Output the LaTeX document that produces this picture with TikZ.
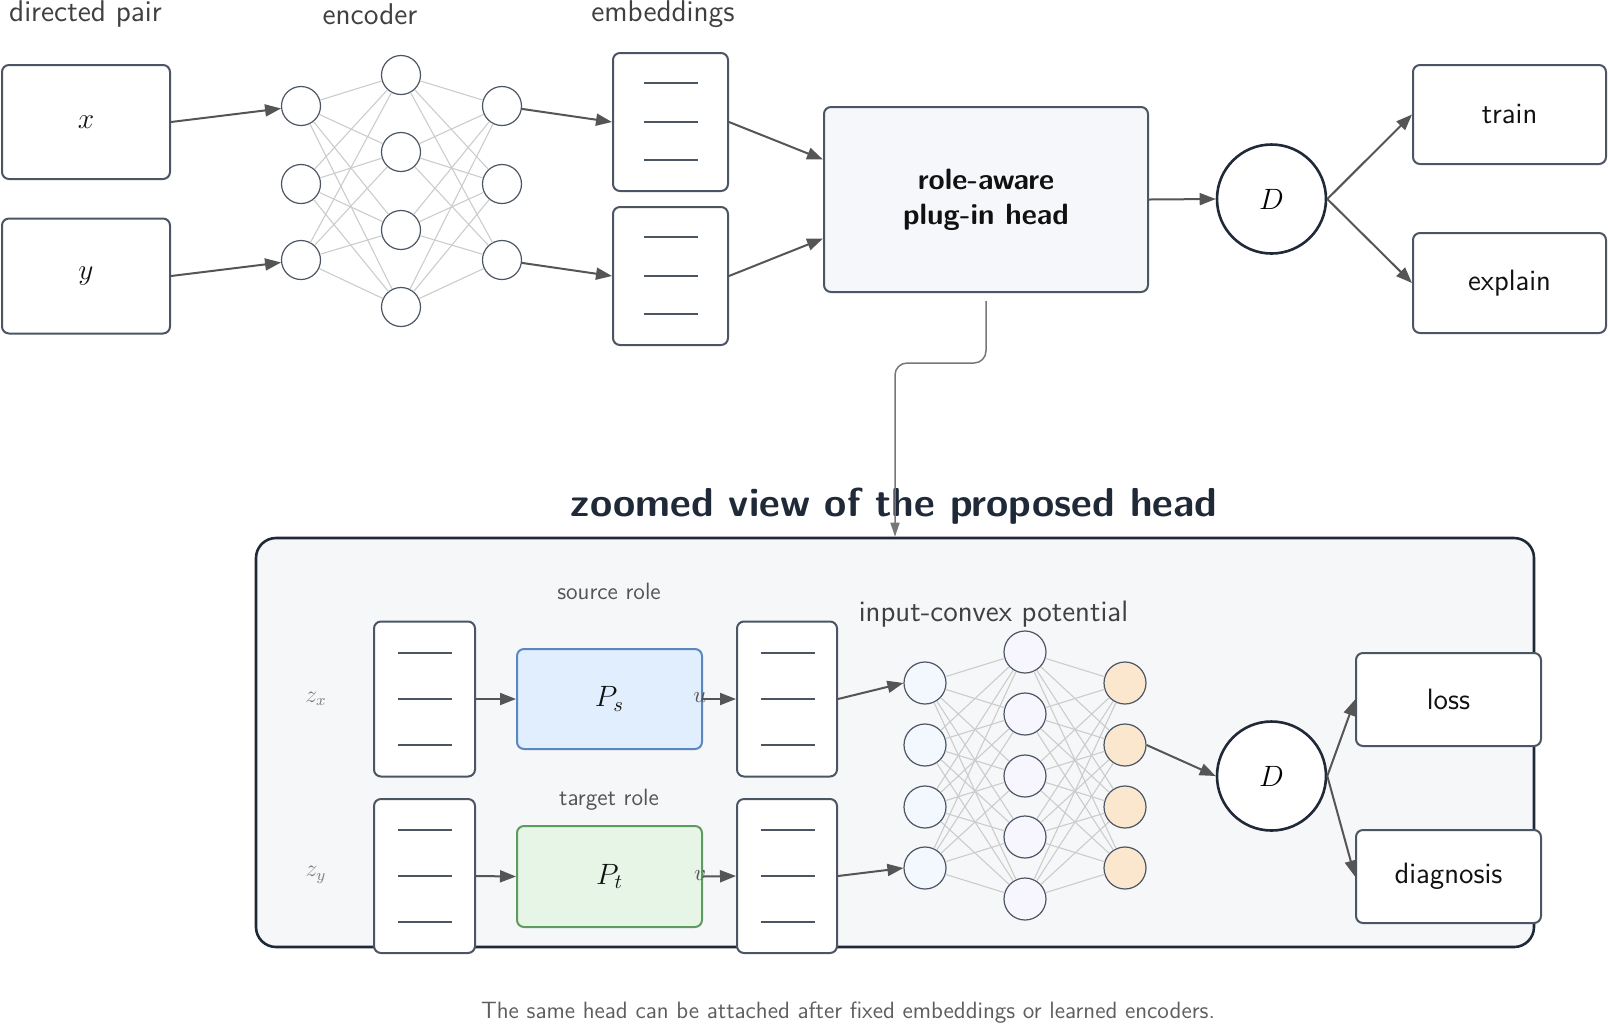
\documentclass[tikz,border=0pt]{standalone}
\usepackage{fix-cm}
\usepackage{fontspec}
\usetikzlibrary{arrows.meta,calc}
\renewcommand{\familydefault}{\sfdefault}
\definecolor{boxc}{HTML}{4B5563}
\definecolor{navy}{HTML}{1F2937}
\definecolor{arrc}{HTML}{555555}
\definecolor{edgec}{HTML}{CCCCCC}
\definecolor{headfill}{HTML}{F5F7FA}
\definecolor{zfill}{HTML}{F6F7F9}
\definecolor{psfill}{HTML}{E1EEFD}
\definecolor{psdraw}{HTML}{5B87BF}
\definecolor{ptfill}{HTML}{E7F5E7}
\definecolor{ptdraw}{HTML}{5E9B5E}
\definecolor{ionefill}{HTML}{F3F7FE}
\definecolor{itwofill}{HTML}{F7F6FE}
\definecolor{ithreefill}{HTML}{FBE7CD}
\definecolor{lblc}{HTML}{404040}
\definecolor{smallc}{HTML}{555555}
\definecolor{footc}{HTML}{5E5E5E}
\definecolor{connc}{HTML}{777777}
\definecolor{txtc}{HTML}{111111}
\newcommand{\fsL}{\fontsize{14.7}{17.5}\selectfont}
\newcommand{\fsS}{\fontsize{11.8}{14}\selectfont}
\newcommand{\fsT}{\fontsize{20.2}{24}\selectfont\bfseries}
\begin{document}
\begin{tikzpicture}[x=0.5pt,y=-0.5pt,
  box/.style={draw=boxc, line width=1pt, rounded corners=3.5pt, fill=white, inner sep=0pt, text=txtc, font=\fsL},
  nn/.style={circle, draw=boxc, line width=0.6pt, fill=white, minimum size=19.5pt, inner sep=0pt},
  icnn/.style={circle, draw=boxc, line width=0.6pt, minimum size=21pt, inner sep=0pt},
  nnedge/.style={draw=edgec, line width=0.55pt},
  embl/.style={draw=boxc, line width=1pt},
  arr/.style={draw=arrc, line width=1pt, -{Triangle[length=8pt,width=6pt]}},
  conn/.style={draw=connc, line width=0.75pt, -{Triangle[length=7pt,width=4.5pt]}},
  dcirc/.style={circle, draw=navy, line width=1.3pt, fill=white, minimum size=54.5pt, inner sep=0pt, font=\fsL},
  toplbl/.style={text=lblc, font=\fsL, inner sep=0pt},
  smlbl/.style={text=smallc, font=\fsS, inner sep=0pt}]
\useasboundingbox (0,0) rectangle (1608,1025);

% ---------- top row ----------
\node[toplbl, anchor=base, font=\fontsize{15}{18}\selectfont] (lpair) at (85.5,21.5) {directed pair};
\node[toplbl, anchor=base, font=\fontsize{15}{18}\selectfont] (lenc) at (370,24) {encoder};
\node[toplbl, anchor=base, font=\fontsize{15}{18}\selectfont] (lemb) at (663,21.5) {embeddings};

\node[box, minimum width=84pt, minimum height=57pt] (xb) at (86,122) {$x$};
\node[box, minimum width=84pt, minimum height=57.5pt] (yb) at (86,276) {$y$};

\foreach \i/\yy in {1/106,2/184,3/260} \node[nn] (a\i) at (301,\yy) {};
\foreach \i/\yy in {1/75,2/152,3/230,4/307} \node[nn] (b\i) at (401,\yy) {};
\foreach \i/\yy in {1/106,2/184,3/260} \node[nn] (c\i) at (502,\yy) {};
\foreach \i in {1,2,3} \foreach \j in {1,2,3,4} {
  \draw[nnedge] (a\i) -- (b\j);
  \draw[nnedge] (b\j) -- (c\i);
}

\node[box, minimum width=57.5pt, minimum height=69pt] (e1) at (670.5,122) {};
\node[box, minimum width=57.5pt, minimum height=69pt] (e2) at (670.5,276) {};
\foreach \n in {e1,e2} \foreach \d in {-39,0,38} \draw[embl] ($(\n.center)+(-26.5,\d)$) -- ++(54,0);

\node[box, fill=headfill, minimum width=162pt, minimum height=92.5pt, align=center, font=\fsL\bfseries] (head) at (986,199.5) {role-aware\\plug-in head};

\node[dcirc] (D1) at (1271.5,199) {$D$};
\node[box, minimum width=96.5pt, minimum height=49.5pt] (tr) at (1509.5,114.5) {train};
\node[box, minimum width=96.5pt, minimum height=50pt] (ex) at (1509.5,283) {explain};

\draw[arr] (xb.east) -- (a1);
\draw[arr] (yb.east) -- (a3);
\draw[arr] (c1) -- (e1.west);
\draw[arr] (c3) -- (e2.west);
\draw[arr] (e1.east) -- ($(head.west)+(0,-40)$);
\draw[arr] (e2.east) -- ($(head.west)+(0,39)$);
\draw[arr] (head.east) -- (D1.west);
\draw[arr] (D1.east) -- (tr.west);
\draw[arr] (D1.east) -- (ex.west);

% ---------- zoomed view ----------
\node[draw=navy, line width=1.3pt, rounded corners=10pt, fill=zfill, minimum width=639pt, minimum height=204.5pt, inner sep=0pt] (zb) at (895,742.5) {};
\node[text=navy, font=\fsT, anchor=base, inner sep=0pt] (title) at (894,516) {zoomed view of the proposed head};

\node[smlbl, anchor=base] (lsrc) at (609,599) {source role};
\node[smlbl, anchor=base] (ltgt) at (609,805) {target role};
\node[text=gray, font=\fontsize{12}{14}\selectfont] (lzx) at (316,699) {$z_x$};
\node[text=gray, font=\fontsize{12}{14}\selectfont] (lzy) at (316,875) {$z_y$};

\node[box, minimum width=50.5pt, minimum height=77.5pt] (le1) at (424.5,699) {};
\node[box, minimum width=50.5pt, minimum height=77pt] (le2) at (424.5,876) {};
\node[box, minimum width=50pt, minimum height=77.5pt] (re1) at (787,699) {};
\node[box, minimum width=50pt, minimum height=77pt] (re2) at (787,876) {};
\foreach \n in {le1,le2,re1,re2} \foreach \d in {-46,0,46} \draw[embl] ($(\n.center)+(-26.5,\d)$) -- ++(54,0);

\node[box, fill=psfill, draw=psdraw, minimum width=92.5pt, minimum height=50pt] (ps) at (609.5,699) {$P_s$};
\node[box, fill=ptfill, draw=ptdraw, minimum width=92.5pt, minimum height=50.5pt] (pt) at (609.5,876.5) {$P_t$};

\node[text=smallc, font=\fontsize{11.5}{13}\selectfont, inner sep=0pt] (lu) at ($(ps.east)+(-3,-1)$) {$u$};
\node[text=smallc, font=\fontsize{11.5}{13}\selectfont, inner sep=0pt] (lv) at ($(pt.east)+(-3,-1)$) {$v$};

\draw[arr] (le1.east) -- (ps.west);
\draw[arr] (le2.east) -- (pt.west);
\draw[arr] (ps.east) -- (re1.west);
\draw[arr] (pt.east) -- (re2.west);

\node[toplbl, anchor=base, font=\fontsize{14.8}{18}\selectfont] (licnn) at (993.5,621) {input-convex potential};
\foreach \i/\yy in {1/683,2/745,3/807,4/868} \node[icnn, fill=ionefill] (i\i) at (925,\yy) {};
\foreach \i/\yy in {1/652,2/714,3/776,4/837,5/899} \node[icnn, fill=itwofill] (j\i) at (1025,\yy) {};
\foreach \i/\yy in {1/683,2/745,3/807,4/868} \node[icnn, fill=ithreefill] (k\i) at (1125,\yy) {};
\foreach \i in {1,2,3,4} \foreach \j in {1,2,3,4,5} {
  \draw[nnedge] (i\i) -- (j\j);
  \draw[nnedge] (j\j) -- (k\i);
}

\draw[arr] (re1.east) -- (i1.west);
\draw[arr] (re2.east) -- (i4.west);

\node[dcirc] (D2) at (1271.5,776) {$D$};
\draw[arr] (k2.east) -- (D2.west);
\node[box, minimum width=92.5pt, minimum height=46.5pt] (loss) at (1448.5,699.5) {loss};
\node[box, minimum width=92.5pt, minimum height=46.5pt] (diag) at (1448.5,876.5) {diagnosis};
\draw[arr] (D2.east) -- (loss.west);
\draw[arr] (D2.east) -- (diag.west);

% ---------- connector head -> zoom ----------
\coordinate (hs) at ($(head.south)+(0,8)$);
\coordinate (zt) at (zb.north);
\draw[conn, rounded corners=6pt] (hs) -- ++(0,62) -| (zt);

\node[text=footc, font=\fsS] (foot) at (848,1013) {The same head can be attached after fixed embeddings or learned encoders.};
\end{tikzpicture}
\end{document}
